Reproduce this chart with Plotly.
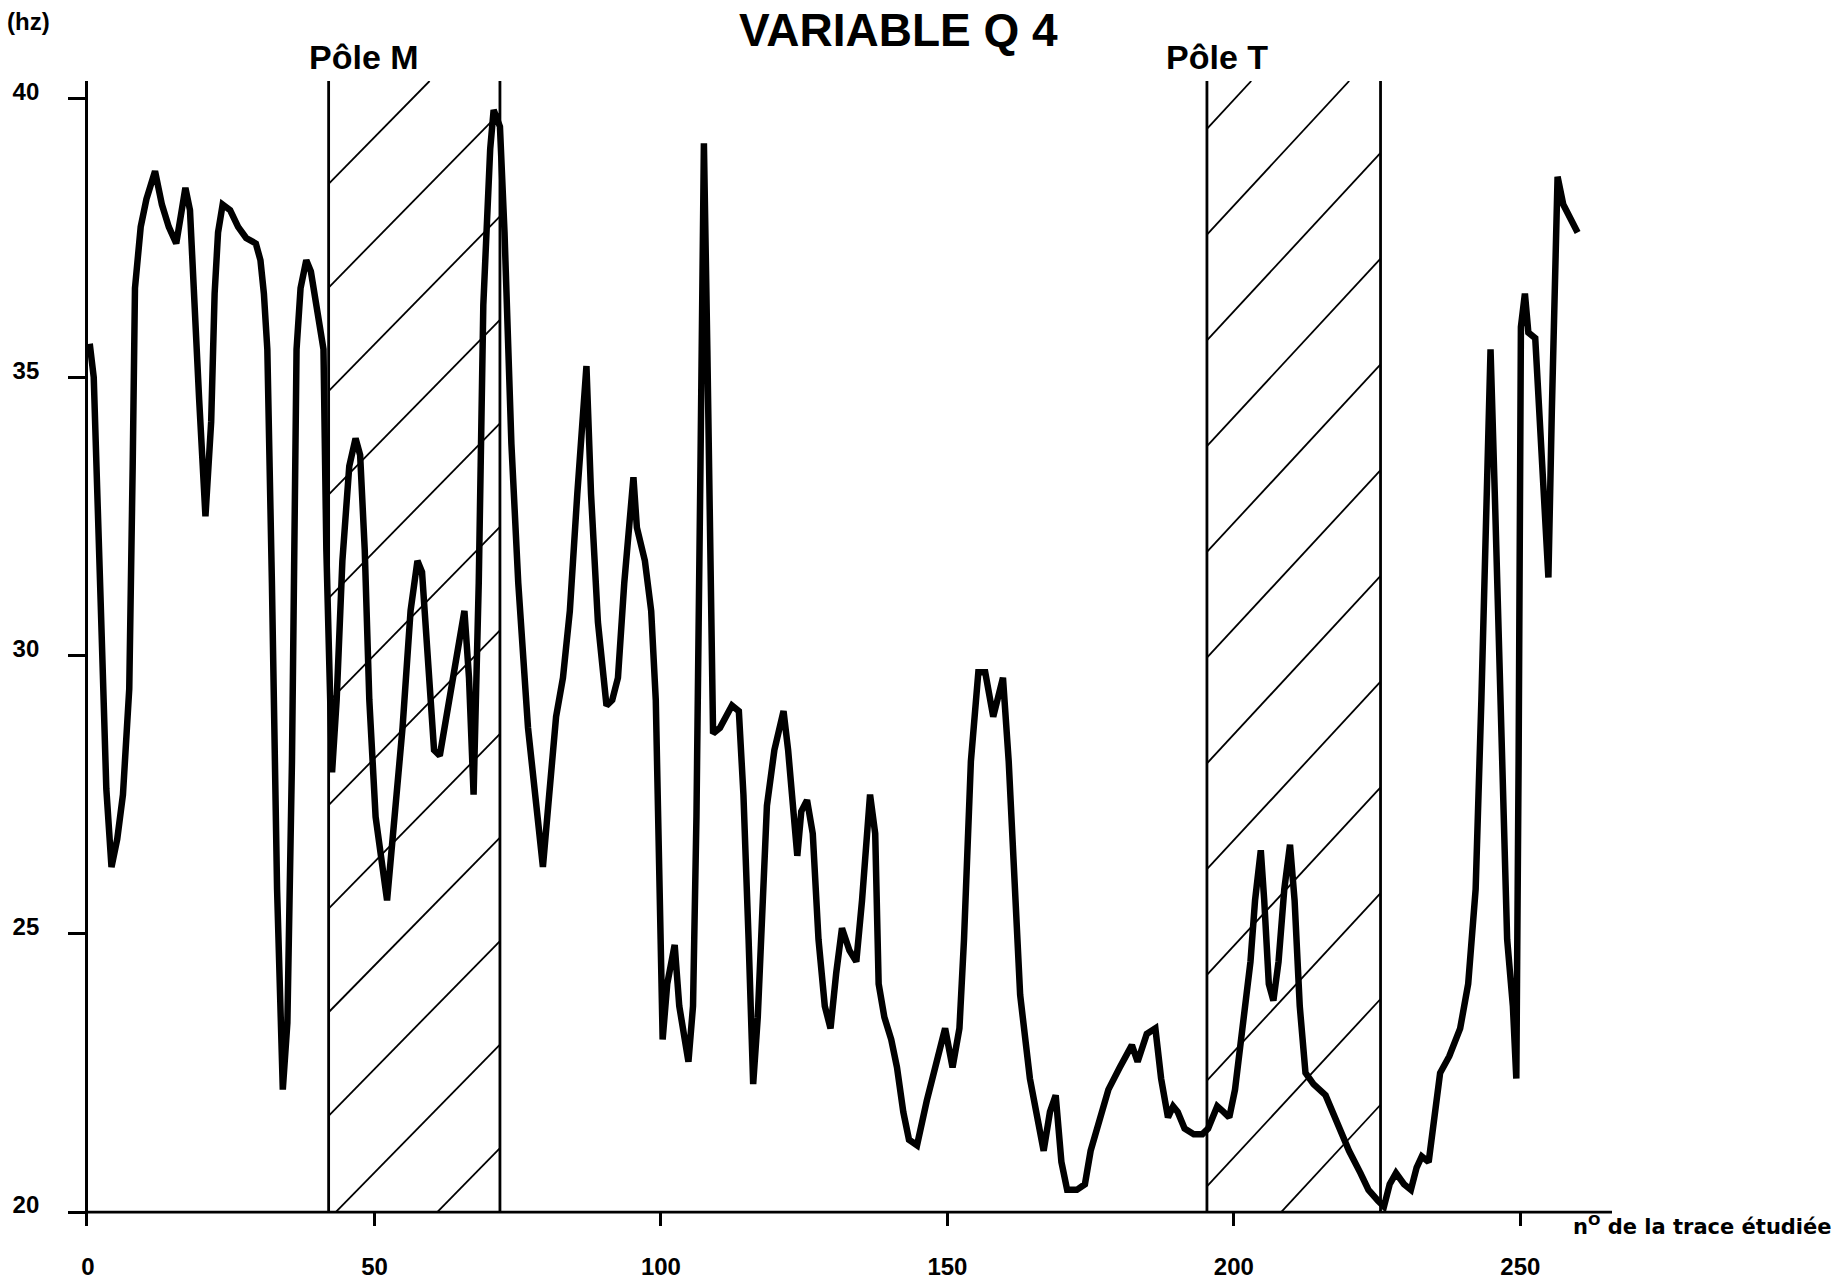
import plotly.graph_objects as go

# ---- data -------------------------------------------------------------------
trace_no = [0.3, 1.0, 2.2, 3.2, 4.1, 5.1, 6.1, 7.2, 7.8, 8.2, 9.2, 10.2, 11.7, 12.9, 14.1, 15.4,
            16.2, 17.0, 17.8, 18.4, 19.4, 20.5, 21.5, 22.1, 22.7, 23.5, 24.8, 26.2, 27.6, 29.3,
            30.1, 30.7, 31.3, 32.1, 33.0, 34.0, 34.8, 35.6, 36.4, 37.1, 38.1, 38.9, 39.9, 41.1,
            41.6, 42.6, 43.4, 44.4, 45.6, 46.7, 47.5, 48.3, 49.1, 50.2, 52.2, 53.6, 54.9, 56.3,
            57.5, 58.3, 59.4, 60.4, 61.4, 62.6, 64.1, 65.7, 66.5, 67.3, 68.2, 69.0, 70.2, 70.8,
            71.9, 72.7, 73.9, 75.1, 76.8, 78.4, 79.4, 80.5, 81.7, 82.9, 84.1, 85.4, 87.0, 87.8,
            89.0, 90.5, 91.5, 92.5, 93.6, 95.2, 95.8, 97.2, 98.3, 99.1, 99.7, 100.3, 101.1, 102.4,
            103.2, 103.8, 104.8, 105.6, 106.2, 106.9, 107.5, 108.1, 109.1, 110.3, 111.4, 112.4,
            113.6, 114.4, 115.3, 116.1, 116.9, 117.7, 118.5, 119.8, 120.6, 121.4, 122.2, 123.0,
            123.8, 124.5, 125.5, 126.5, 127.5, 128.6, 129.6, 130.6, 131.6, 132.9, 134.1, 135.1,
            135.9, 136.5, 137.4, 138.0, 139.0, 140.2, 141.2, 142.3, 143.3, 144.7, 146.4, 148.0,
            149.6, 150.9, 152.1, 152.9, 154.1, 155.4, 156.6, 158.0, 159.7, 160.7, 161.7, 162.7,
            164.4, 165.8, 166.8, 167.9, 168.9, 169.9, 170.9, 172.6, 174.0, 175.0, 176.5, 178.1,
            180.1, 182.2, 183.2, 184.8, 186.3, 187.3, 188.5, 189.4, 190.2, 191.4, 193.0, 194.5,
            195.5, 197.1, 198.2, 199.2, 200.2, 201.6, 202.9, 203.7, 204.7, 205.3, 206.1, 206.9,
            207.8, 208.8, 209.8, 210.6, 211.5, 212.5, 213.9, 216.0, 218.0, 220.1, 222.1, 223.5,
            225.2, 226.2, 227.2, 228.3, 229.7, 230.9, 231.9, 232.8, 234.0, 234.8, 236.0, 237.6,
            239.5, 240.9, 242.2, 243.2, 244.0, 244.8, 245.6, 246.7, 247.7, 248.7, 249.3, 249.7,
            250.1, 250.8, 251.4, 252.6, 253.4, 254.3, 254.9, 255.5, 256.1, 256.5, 257.5, 258.5,
            259.4, 260.0]

q4_hz = [35.6, 35.0, 31.0, 27.6, 26.2, 26.7, 27.5, 29.4, 33.4, 36.6, 37.7, 38.2, 38.7, 38.1, 37.7, 37.4,
         37.9, 38.4, 38.0, 36.9, 34.6, 32.5, 34.2, 36.5, 37.6, 38.1, 38.0, 37.7, 37.5, 37.4,
         37.1, 36.5, 35.5, 31.3, 25.8, 22.2, 23.4, 28.1, 35.5, 36.6, 37.1, 36.9, 36.2, 35.5,
         31.9, 27.9, 29.2, 31.7, 33.4, 33.9, 33.6, 31.9, 29.2, 27.1, 25.6, 27.1, 28.7, 30.8,
         31.7, 31.5, 29.6, 28.3, 28.2, 28.9, 29.7, 30.8, 29.6, 27.5, 31.3, 36.3, 39.1, 39.8,
         39.5, 37.6, 33.8, 31.3, 28.7, 27.1, 26.2, 27.5, 28.9, 29.6, 30.8, 32.9, 35.2, 32.9,
         30.6, 29.1, 29.2, 29.6, 31.3, 33.2, 32.3, 31.7, 30.8, 29.2, 26.0, 23.1, 24.1, 24.8,
         23.7, 23.3, 22.7, 23.7, 27.1, 33.4, 39.2, 35.5, 28.6, 28.7, 28.9, 29.1,
         29.0, 27.5, 24.9, 22.3, 23.5, 25.4, 27.3, 28.3, 28.7, 29.0, 28.3, 27.3,
         26.4, 27.2, 27.4, 26.8, 24.9, 23.7, 23.3, 24.3, 25.1, 24.7, 24.5, 25.6,
         26.6, 27.5, 26.8, 24.1, 23.5, 23.1, 22.6, 21.8, 21.3, 21.2, 22.0, 22.7,
         23.3, 22.6, 23.3, 24.9, 28.1, 29.7, 29.7, 28.9, 29.6, 28.1, 26.0, 23.9,
         22.4, 21.6, 21.1, 21.8, 22.1, 20.9, 20.4, 20.4, 20.5, 21.1, 21.6, 22.2,
         22.6, 23.0, 22.7, 23.2, 23.3, 22.4, 21.7, 21.9, 21.8, 21.5, 21.4, 21.4,
         21.5, 21.9, 21.8, 21.7, 22.2, 23.5, 24.5, 25.6, 26.5, 25.6, 24.1, 23.8,
         24.5, 25.8, 26.6, 25.6, 23.7, 22.5, 22.3, 22.1, 21.6, 21.1, 20.7, 20.4,
         20.2, 20.1, 20.5, 20.7, 20.5, 20.4, 20.8, 21.0, 20.9, 21.6, 22.5, 22.8,
         23.3, 24.1, 25.8, 29.2, 32.9, 35.5, 32.7, 28.3, 24.9, 23.7, 22.4, 28.1,
         35.9, 36.5, 35.8, 35.7, 34.2, 32.5, 31.4, 34.4, 37.6, 38.6, 38.1, 37.9,
         37.7, 37.6]

pole_names = ["Pôle M", "Pôle T"]
pole_start = [42.0, 195.3]
pole_end = [71.9, 225.6]
band_top = 40.32

x_ticks = [0, 50, 100, 150, 200, 250]
y_ticks = [20, 25, 30, 35, 40]
x_max = 266
y_base = 20
y_min = 19.75

# hatching style per band: (a left-edge crossing value, spacing in Hz, pixel slope)
hatch_style = [(38.47, 1.86, 1.02), (39.46, 1.90, 1.08)]

FONT = "Liberation Sans, Arial, sans-serif"
WIDE = "DejaVu Sans, sans-serif"

W, H = 1837, 1283
M_L, M_R, M_T, M_B = 88, 225, 81, 57
px_per_x = (W - M_L - M_R) / (x_max - 0)
px_per_y = (H - M_T - M_B) / (band_top - y_min)

fig = go.Figure()

# main curve
fig.add_trace(go.Scatter(
    x=trace_no, y=q4_hz, mode="lines",
    line=dict(color="black", width=6.5),
    showlegend=False, hoverinfo="x+y"))

shapes = []
# hatched "pôle" bands: diagonal lines clipped to each band
for (xa, xb), (ref_y, step, slope_px) in zip(zip(pole_start, pole_end), hatch_style):
    m = slope_px * px_per_x / px_per_y
    for k in range(-15, 30):
        y0 = ref_y - k * step
        y_right = y0 + m * (xb - xa)
        if y0 >= band_top or y_right <= y_base:
            continue
        xs, ys = xa, y0
        if ys < y_base:
            xs, ys = xa + (y_base - y0) / m, y_base
        xe, ye = xb, y_right
        if ye > band_top:
            xe, ye = xa + (band_top - y0) / m, band_top
        shapes.append(dict(type="line", xref="x", yref="y", x0=xs, y0=ys, x1=xe, y1=ye,
                           line=dict(color="black", width=1.8), layer="below"))
    for xv in (xa, xb):
        shapes.append(dict(type="line", xref="x", yref="y", x0=xv, x1=xv,
                           y0=y_base, y1=band_top, line=dict(color="black", width=2.8),
                           layer="below"))
# x axis line at 20 Hz
shapes.append(dict(type="line", xref="x", yref="y", x0=0, x1=x_max, y0=y_base, y1=y_base,
                   line=dict(color="black", width=2.8)))

annotations = [
    dict(text="<b>VARIABLE Q 4</b>", xref="paper", yref="paper", x=0.5315, y=1.0445,
         xanchor="center", yanchor="middle", showarrow=False,
         font=dict(family=FONT, size=46, color="black")),
    dict(text="<b>(hz)</b>", xref="paper", yref="paper", x=-0.0388, y=1.0524,
         xanchor="center", yanchor="middle", showarrow=False,
         font=dict(family=FONT, size=24, color="black")),
    dict(text="<b>n<sup>O</sup> de la trace étudiée</b>", xref="paper", yref="paper",
         x=0.9728, y=0.001, xanchor="left", yanchor="middle", showarrow=False,
         font=dict(family=WIDE, size=21, color="black")),
]
label_x = [48.1, 197.0]
for name, lx in zip(pole_names, label_x):
    annotations.append(dict(text="<b>" + name + "</b>", xref="x", yref="paper", x=lx, y=1.0209,
                            xanchor="center", yanchor="middle", showarrow=False,
                            font=dict(family=FONT, size=34, color="black")))

fig.update_layout(
    width=W, height=H,
    margin=dict(l=M_L, r=M_R, t=M_T, b=M_B, autoexpand=False),
    paper_bgcolor="white", plot_bgcolor="white",
    shapes=shapes, annotations=annotations,
    xaxis=dict(range=[0, x_max], tickvals=x_ticks, ticktext=[str(v) for v in x_ticks],
               ticks="inside", ticklen=14, tickwidth=2.6, tickcolor="black",
               showline=False, showgrid=False, zeroline=False, automargin=False,
               tickfont=dict(family=FONT, size=24, color="black", weight="bold"),
               ticklabelstandoff=24),
    yaxis=dict(range=[y_min, band_top], tickvals=y_ticks, ticktext=[str(v) for v in y_ticks],
               ticks="outside", ticklen=17, tickwidth=2.6, tickcolor="black",
               showline=True, linewidth=2.8, linecolor="black",
               showgrid=False, zeroline=False, automargin=False,
               tickfont=dict(family=FONT, size=24, color="black", weight="bold"),
               ticklabelstandoff=24, ticklabelshift=-7),
)

# remove the browser's default 8px page margin so the figure fills the window exactly
fig.write_html("out.html", config={"displayModeBar": False},
               post_script="document.body.style.margin='0px';")
